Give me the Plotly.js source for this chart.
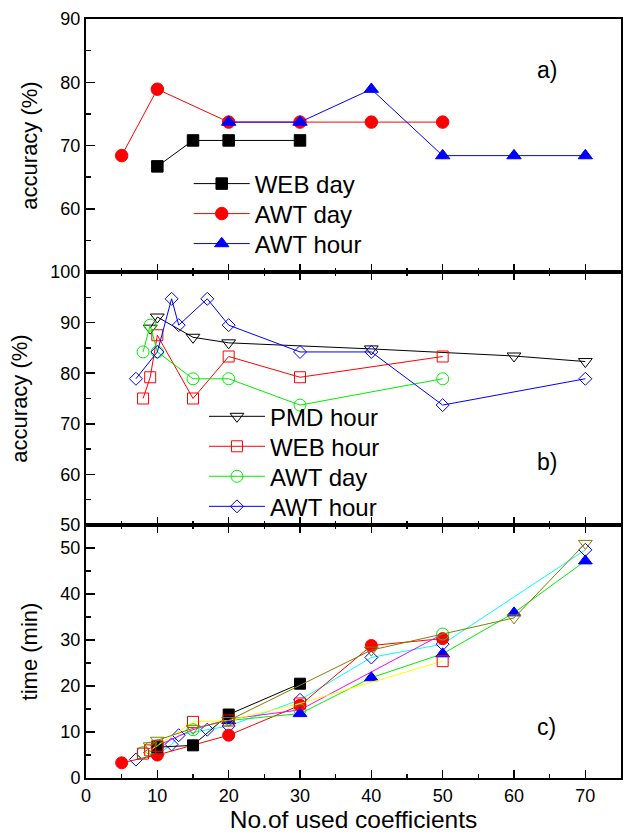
<!DOCTYPE html>
<html>
<head>
<meta charset="utf-8">
<script src="https://cdn.plot.ly/plotly-3.0.1.min.js"></script>
<style>
  html, body { margin: 0; padding: 0; background: #fff; }
  #chart { width: 624px; height: 834px; }
</style>
</head>
<body>
<div id="chart"></div>
<script>
// ---------- Panel a) accuracy ----------
const xA_webDay  = [10, 15, 20, 30];
const yA_webDay  = [66.7, 70.8, 70.8, 70.8];
const xA_awtDay  = [5, 10, 20, 30, 40, 50];
const yA_awtDay  = [68.4, 78.9, 73.7, 73.7, 73.7, 73.7];
const xA_awtHour = [20, 30, 40, 50, 60, 70];
const yA_awtHour = [73.7, 73.7, 78.9, 68.4, 68.4, 68.4];

// ---------- Panel b) accuracy ----------
const xB_pmdHour = [9, 10, 15, 20, 40, 60, 70];
const yB_pmdHour = [88.9, 91.1, 87.1, 86.0, 84.8, 83.4, 82.3];
const xB_webHour = [8, 9, 10, 15, 20, 30, 50];
const yB_webHour = [75.0, 79.2, 87.5, 75.0, 83.3, 79.2, 83.3];
const xB_awtDay  = [8, 9, 10, 15, 20, 30, 50];
const yB_awtDay  = [84.2, 89.5, 84.2, 78.9, 78.9, 73.7, 78.9];
const xB_awtHour = [7, 10, 12, 13, 17, 20, 30, 40, 50, 70];
const yB_awtHour = [78.9, 84.2, 94.7, 89.5, 94.7, 89.5, 84.2, 84.2, 73.7, 78.9];

// ---------- Panel c) time ----------
const xC_webDay   = [10, 15, 20, 30];
const yC_webDay   = [6.7, 7.1, 13.8, 20.5];
const xC_awtDay   = [5, 10, 20, 30, 40, 50];
const yC_awtDay   = [3.3, 5.0, 9.3, 15.8, 28.8, 30.3];
const xC_awtHour  = [20, 30, 40, 50, 60, 70];
const yC_awtHour  = [12.5, 14.0, 21.8, 27.0, 35.9, 47.2];
const xC_pmdHour  = [9, 10, 15, 20, 40, 60, 70];
const yC_pmdHour  = [7.0, 8.2, 10.8, 12.5, 27.8, 34.8, 51.0];
const xC_webHour  = [8, 9, 10, 15, 20, 30, 50];
const yC_webHour  = [5.3, 6.0, 7.0, 12.2, 12.5, 16.2, 25.4];
const xC_awtDayO  = [8, 9, 10, 15, 20, 30, 50];
const yC_awtDayO  = [5.5, 6.5, 7.0, 10.5, 12.8, 14.8, 31.3];
const xC_awtHourO = [7, 10, 12, 13, 17, 20, 30, 40, 50, 70];
const yC_awtHourO = [4.0, 5.1, 7.3, 9.3, 10.5, 11.3, 17.0, 26.2, 29.1, 49.6];

const xTickVals = [0, 10, 20, 30, 40, 50, 60, 70];
const yTicksA = [60, 70, 80, 90];
const yTicksB = [50, 60, 70, 80, 90, 100];
const yTicksC = [0, 10, 20, 30, 40, 50];

const FONT = 'Liberation Sans, Arial, Helvetica, sans-serif';

function tr(x, y, xa, ya, name, lineColor, symbol, mColor, size, legend, show) {
  return {
    x: x, y: y, xaxis: xa, yaxis: ya, name: name, type: 'scatter',
    mode: 'lines+markers',
    line: { color: lineColor, width: 1 },
    marker: { symbol: symbol, color: mColor, size: size, line: { color: mColor, width: 1 } },
    legend: legend, showlegend: show
  };
}

const data = [
  // panel a (x3/y3)
  tr(xA_webDay, yA_webDay, 'x3', 'y3', 'WEB day', '#000000', 'square', '#000000', 11.5, 'legend', true),
  tr(xA_awtDay, yA_awtDay, 'x3', 'y3', 'AWT day', '#ff0000', 'circle', '#ff0000', 12.5, 'legend2', true),
  tr(xA_awtHour, yA_awtHour, 'x3', 'y3', 'AWT hour', '#0000ff', 'triangle-up', '#0000ff', 12.5, 'legend3', true),
  // panel b (x2/y2)
  tr(xB_pmdHour, yB_pmdHour, 'x2', 'y2', 'PMD hour', '#000000', 'triangle-down-open', '#000000', 12, 'legend4', true),
  tr(xB_webHour, yB_webHour, 'x2', 'y2', 'WEB hour', '#ff0000', 'square-open', '#ff0000', 11, 'legend5', true),
  tr(xB_awtDay, yB_awtDay, 'x2', 'y2', 'AWT day', '#00ee00', 'circle-open', '#00ee00', 12, 'legend6', true),
  tr(xB_awtHour, yB_awtHour, 'x2', 'y2', 'AWT hour', '#0000ff', 'diamond-open', '#0000ff', 10, 'legend7', true),
  // panel c (x/y)
  tr(xC_awtHourO, yC_awtHourO, 'x', 'y', 'AWT hour', '#00ffff', 'diamond-open', '#0000ff', 10, 'legend', false),
  tr(xC_awtDay, yC_awtDay, 'x', 'y', 'AWT day', '#ff0000', 'circle', '#ff0000', 12, 'legend', false),
  tr(xC_awtDayO, yC_awtDayO, 'x', 'y', 'AWT day', '#ff00ff', 'circle-open', '#00ee00', 12, 'legend', false),
  tr(xC_awtHour, yC_awtHour, 'x', 'y', 'AWT hour', '#00ee00', 'triangle-up', '#0000ff', 12, 'legend', false),
  tr(xC_webDay, yC_webDay, 'x', 'y', 'WEB day', '#000000', 'square', '#000000', 11, 'legend', false),
  tr(xC_webHour, yC_webHour, 'x', 'y', 'WEB hour', '#ffff00', 'square-open', '#ff0000', 11, 'legend', false),
  tr(xC_pmdHour, yC_pmdHour, 'x', 'y', 'PMD hour', '#808000', 'triangle-down-open', '#808000', 12, 'legend', false)
];

function xax(showLabels, mirror) {
  return {
    range: [0, 75], tickvals: xTickVals, showticklabels: showLabels,
    ticks: 'inside', ticklen: 8, tickwidth: 1.5, tickcolor: '#000',
    minor: { dtick: 5, ticks: 'inside', ticklen: 4, tickwidth: 1.5, tickcolor: '#000' },
    showline: true, linecolor: '#000', linewidth: 2, mirror: mirror,
    showgrid: false, zeroline: false,
    tickfont: { family: FONT, size: 18, color: '#000' }
  };
}
function yax(range, ticks, domain, titleText) {
  return {
    range: range, tickvals: ticks, domain: domain,
    ticks: 'inside', ticklen: 9, tickwidth: 1.5, tickcolor: '#000',
    minor: { dtick: 5, ticks: 'inside', ticklen: 5, tickwidth: 1.5, tickcolor: '#000' },
    showline: true, linecolor: '#000', linewidth: 2, mirror: true,
    showgrid: false, zeroline: false,
    tickfont: { family: FONT, size: 18, color: '#000' },
    title: { text: titleText, font: { family: FONT, size: 22, color: '#000' }, standoff: 17 }
  };
}

function leg(x, y) {
  return {
    bgcolor: 'rgba(0,0,0,0)', borderwidth: 0,
    font: { family: FONT, size: 24, color: '#000' },
    xanchor: 'left', yanchor: 'middle', itemwidth: 56, x: x, y: y
  };
}

const layout = {
  width: 624, height: 834,
  margin: { l: 86, r: 3, t: 19, b: 56 },
  paper_bgcolor: '#fff', plot_bgcolor: '#fff',
  font: { family: FONT, color: '#000' },
  xaxis: Object.assign(xax(true, 'ticks'), {
    anchor: 'y',
    title: { text: 'No.of used coefficients', font: { family: FONT, size: 24.5, color: '#000' }, standoff: 4 }
  }),
  xaxis2: Object.assign(xax(false, 'ticks'), { anchor: 'y2' }),
  xaxis3: Object.assign(xax(false, true), { anchor: 'y3' }),
  yaxis: Object.assign(yax([0, 55], yTicksC, [0, 1/3], 'time (min)'), { anchor: 'x' }),
  yaxis2: Object.assign(yax([50, 100], yTicksB, [1/3, 2/3], 'accuracy (%)'), { anchor: 'x2' }),
  yaxis3: Object.assign(yax([50, 90], yTicksA, [2/3, 1], 'accuracy (%)'), { anchor: 'x3' }),
  legend:  leg(0.192, 0.7826),
  legend2: leg(0.192, 0.7431),
  legend3: leg(0.192, 0.7036),
  legend4: leg(0.2205, 0.4760),
  legend5: leg(0.2205, 0.4365),
  legend6: leg(0.2205, 0.3970),
  legend7: leg(0.2205, 0.3574),
  annotations: [
    { xref: 'x3', yref: 'y3', x: 64.6, y: 81.9, text: 'a)', showarrow: false, font: { family: FONT, size: 23, color: '#000' } },
    { xref: 'x2', yref: 'y2', x: 64.6, y: 62.5, text: 'b)', showarrow: false, font: { family: FONT, size: 23, color: '#000' } },
    { xref: 'x', yref: 'y', x: 64.6, y: 11.1, text: 'c)', showarrow: false, font: { family: FONT, size: 23, color: '#000' } }
  ],
  showlegend: true
};

Plotly.newPlot('chart', data, layout, { displayModeBar: false, staticPlot: true });
</script>
</body>
</html>
